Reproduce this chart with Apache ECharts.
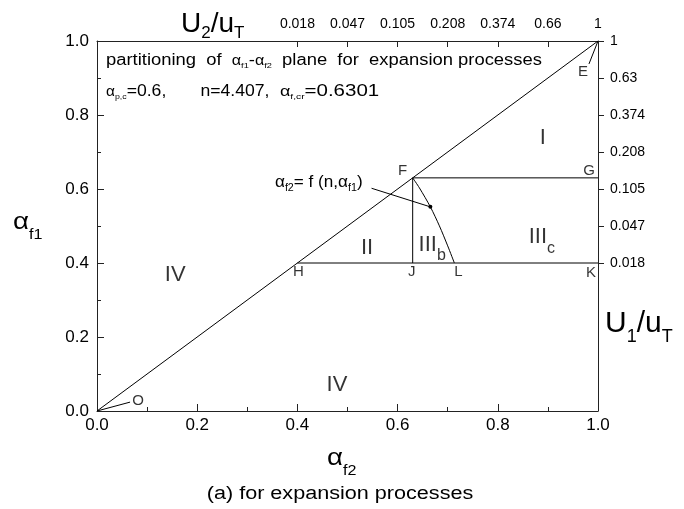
<!DOCTYPE html>
<html>
<head>
<meta charset="utf-8">
<script src="https://cdn.jsdelivr.net/npm/echarts@6/dist/echarts.min.js"></script>
<style>
  html, body { margin: 0; padding: 0; background: #fff; }
  #chart { width: 684px; height: 509px; }
</style>
</head>
<body>
<div id="chart"></div>
<script>
// Process parameters
const alphaPC = 0.6;
const nExponent = 4.407;
const alphaFcr = 0.6301;
const alphaLower = 0.4;            // alpha_f1 of the boundary H–K

// Diagonal alpha_f1 = alpha_f2 (O to E)
const diagonalF2 = [0, 1];
const diagonalF1 = [0, 1];

// Boundary alpha_f2 = f(n, alpha_f1), from F down to L
const curveF2 = [0.6301, 0.6435, 0.6654, 0.6834, 0.7000, 0.7133];
const curveF1 = [0.6301, 0.6030, 0.5517, 0.5004, 0.4463, 0.4000];

// Velocity-ratio scales on the top and right axes
const topTickValues = [0.4, 0.5, 0.6, 0.7, 0.8, 0.9, 1.0];
const topTickLabels = ['0.018', '0.047', '0.105', '0.208', '0.374', '0.66', '1'];
const rightTickValues = [0.4, 0.5, 0.6, 0.7, 0.8, 0.9, 1.0];
const rightTickLabels = ['0.018', '0.047', '0.105', '0.208', '0.374', '0.63', '1'];

// Region names and where they sit (alpha_f2, alpha_f1)
const regionMain = ['I', 'IV', 'II', 'III', 'III', 'IV'];
const regionSub = ['', '', '', 'b', 'c', ''];
const regionF2 = [0.890, 0.156, 0.539, 0.669, 0.888, 0.479];
const regionF1 = [0.738, 0.368, 0.440, 0.449, 0.470, 0.070];

// Leader lines for the callout and the O / E labels
const calloutStart = [0.548, 0.602];
const originLeaderEnd = [0.066, 0.024];
const cornerLeaderEnd = [0.982, 0.938];

const FONT = "'Liberation Sans', Arial, sans-serif";
const INK = '#000';

const curvePts = curveF2.map((x, i) => [x, curveF1[i]]);
const ptF = [alphaFcr, alphaFcr];
const ptG = [1, alphaFcr];
const ptH = [alphaLower, alphaLower];
const ptJ = [alphaFcr, alphaLower];
const ptL = curvePts[curvePts.length - 1];
const ptK = [1, alphaLower];
const calloutEnd = curvePts[2];

function segment(points, extra) {
  return Object.assign({
    type: 'line', data: points, symbol: 'none', silent: true, animation: false,
    lineStyle: { color: INK, width: 1 }, z: 3
  }, extra || {});
}

function pickLabel(values, labels) {
  return v => {
    const i = values.findIndex(t => Math.abs(t - v) < 1e-6);
    return i < 0 ? '' : labels[i];
  };
}

// Text block with subscripts; sx widens the glyph run horizontally
function textBlock(x, y, text, rich, align, sx) {
  return {
    type: 'text', x: x, y: y, silent: true, scaleX: sx || 1, originX: 0, originY: 0,
    style: { text: text, rich: rich, align: align || 'left', verticalAlign: 'middle' }
  };
}

const noteRich = {
  t: { fontSize: 16, lineHeight: 20, fontFamily: FONT, fill: INK },
  a: { fontSize: 14, lineHeight: 20, fontFamily: FONT, fill: INK },
  s: { fontSize: 8, lineHeight: 8, fontFamily: FONT, fill: INK, padding: [10, 0, 0, 0] }
};

const axisLineStyle = { color: '#222', width: 1 };
const baseLine = { show: true, onZero: false, lineStyle: axisLineStyle };

const chart = echarts.init(document.getElementById('chart'), null, { renderer: 'canvas' });

chart.setOption({
  animation: false,
  backgroundColor: '#fff',
  grid: { left: 97, right: 86, top: 41, bottom: 98, containLabel: false, outerBoundsMode: 'none' },
  xAxis: [
    {
      type: 'value', position: 'bottom', min: 0, max: 1, interval: 0.2,
      axisLine: baseLine,
      axisTick: { show: true, inside: true, length: 7, lineStyle: axisLineStyle },
      minorTick: { show: true, splitNumber: 2, length: 4, lineStyle: axisLineStyle },
      splitLine: { show: false },
      axisLabel: { color: INK, fontSize: 17, fontFamily: FONT, margin: 6, formatter: v => v.toFixed(1) }
    },
    {
      type: 'value', position: 'top', min: 0, max: 1, interval: 0.1,
      axisLine: baseLine,
      axisTick: { show: true, inside: true, length: 6, lineStyle: axisLineStyle, customValues: topTickValues },
      splitLine: { show: false },
      axisLabel: {
        color: INK, fontSize: 14, fontFamily: FONT, margin: 10,
        customValues: topTickValues, formatter: pickLabel(topTickValues, topTickLabels)
      }
    }
  ],
  yAxis: [
    {
      type: 'value', position: 'left', min: 0, max: 1, interval: 0.2,
      axisLine: baseLine,
      axisTick: { show: true, inside: true, length: 7, lineStyle: axisLineStyle },
      minorTick: { show: true, splitNumber: 2, length: 4, lineStyle: axisLineStyle },
      splitLine: { show: false },
      axisLabel: { color: INK, fontSize: 17, fontFamily: FONT, margin: 8, formatter: v => v.toFixed(1) }
    },
    {
      type: 'value', position: 'right', min: 0, max: 1, interval: 0.1,
      axisLine: baseLine,
      axisTick: { show: true, inside: false, length: 6, lineStyle: axisLineStyle, customValues: rightTickValues },
      splitLine: { show: false },
      axisLabel: {
        color: INK, fontSize: 14, fontFamily: FONT, margin: 12,
        customValues: rightTickValues, formatter: pickLabel(rightTickValues, rightTickLabels)
      }
    }
  ],
  series: [
    segment(diagonalF2.map((x, i) => [x, diagonalF1[i]])),
    segment([ptH, ptK]),
    segment([ptF, ptG]),
    segment([ptF, ptJ]),
    segment(curvePts, { smooth: 0.3 }),
    segment([
      { value: calloutStart, symbol: 'none' },
      { value: calloutEnd, symbol: 'circle', symbolSize: 4 }
    ], { showSymbol: true, itemStyle: { color: INK } }),
    segment([[0, 0], originLeaderEnd]),
    segment([[1, 1], cornerLeaderEnd]),
    {
      type: 'scatter', silent: true, animation: false, symbolSize: 1,
      itemStyle: { color: 'rgba(0,0,0,0)' },
      label: { show: true, position: 'inside', color: INK, fontSize: 15, fontFamily: FONT },
      data: [
        { value: ptF, label: { formatter: 'F', offset: [-10, -7] } },
        { value: ptG, label: { formatter: 'G', offset: [-9, -7] } },
        { value: ptH, label: { formatter: 'H', offset: [1, 9] } },
        { value: ptJ, label: { formatter: 'J', offset: [-1, 9] } },
        { value: ptL, label: { formatter: 'L', offset: [4, 9] } },
        { value: ptK, label: { formatter: 'K', offset: [-7, 10] } },
        { value: cornerLeaderEnd, label: { formatter: 'E', offset: [-6, 8] } },
        { value: originLeaderEnd, label: { formatter: 'O', offset: [8, -1] } }
      ]
    },
    {
      type: 'scatter', silent: true, animation: false, symbolSize: 1,
      itemStyle: { color: 'rgba(0,0,0,0)' },
      label: {
        show: true, position: 'inside', color: INK, fontFamily: FONT,
        formatter: p => regionSub[p.dataIndex]
          ? `{r|${regionMain[p.dataIndex]}}{s|${regionSub[p.dataIndex]}}`
          : `{r|${regionMain[p.dataIndex]}}`,
        rich: {
          r: { fontSize: 22, lineHeight: 28, fontFamily: FONT, color: INK },
          s: { fontSize: 16, lineHeight: 16, fontFamily: FONT, color: INK, padding: [22, 0, 0, 0] }
        }
      },
      data: regionF2.map((x, i) => [x, regionF1[i]])
    }
  ],
  graphic: [
    textBlock(181, 24, '{m|U}{s|2}{m|/u}{s|T}', {
      m: { fontSize: 28, lineHeight: 34, fontFamily: FONT, fill: INK },
      s: { fontSize: 17, lineHeight: 17, fontFamily: FONT, fill: INK, padding: [19, 0, 0, 0] }
    }),
    textBlock(605, 324, '{m|U}{s|1}{m|/u}{s|T}', {
      m: { fontSize: 30, lineHeight: 36, fontFamily: FONT, fill: INK },
      s: { fontSize: 18, lineHeight: 18, fontFamily: FONT, fill: INK, padding: [26, 0, 0, 0] }
    }),
    textBlock(13, 222, '{a|α}{s|f1}', {
      a: { fontSize: 24, lineHeight: 30, fontFamily: FONT, fill: INK },
      s: { fontSize: 14, lineHeight: 14, fontFamily: FONT, fill: INK, padding: [27, 0, 0, 0] }
    }, 'left', 1.15),
    textBlock(327, 458, '{a|α}{s|f2}', {
      a: { fontSize: 24, lineHeight: 30, fontFamily: FONT, fill: INK },
      s: { fontSize: 14, lineHeight: 14, fontFamily: FONT, fill: INK, padding: [27, 0, 0, 0] }
    }, 'left', 1.15),
    textBlock(340, 494, '{c|(a) for expansion processes}', {
      c: { fontSize: 18, lineHeight: 22, fontFamily: FONT, fill: INK }
    }, 'center', 1.2),
    textBlock(106, 61,
      '{t|partitioning  of  }{a|α}{s|f1}{t|-}{a|α}{s|f2}{t|  plane  for  expansion processes}',
      noteRich, 'left', 1.15),
    textBlock(106, 92,
      '{a|α}{s|p,c}{t|=' + alphaPC.toFixed(1) + ',       n=' + nExponent.toFixed(3) + ',}',
      noteRich, 'left', 1.1),
    textBlock(280, 92, '{a|α}{s|f,cr}{t|=' + alphaFcr.toFixed(4) + '}', noteRich, 'left', 1.28),
    textBlock(275, 183, '{a|α}{s|f2}{t|= f (n,}{a|α}{s|f1}{t|)}', {
      t: { fontSize: 16, lineHeight: 20, fontFamily: FONT, fill: INK },
      a: { fontSize: 16, lineHeight: 20, fontFamily: FONT, fill: INK },
      s: { fontSize: 10, lineHeight: 10, fontFamily: FONT, fill: INK, padding: [10, 0, 0, 0] }
    }, 'left', 1.07)
  ]
});
</script>
</body>
</html>
